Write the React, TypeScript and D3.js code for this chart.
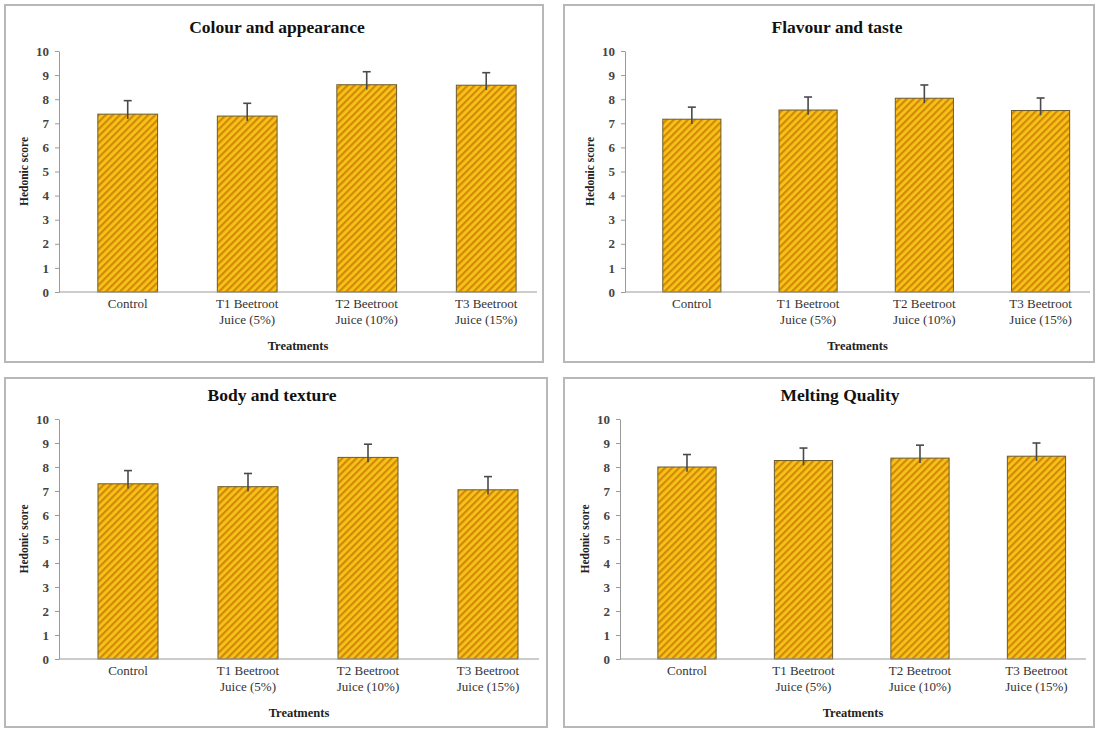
import { useEffect, useRef } from "react";
import * as d3 from "d3";

const CATEGORIES = ["Control", "T1 Beetroot Juice (5%)", "T2 Beetroot Juice (10%)", "T3 Beetroot Juice (15%)"];
const CATEGORY_LINES = [["Control"], ["T1 Beetroot", "Juice (5%)"], ["T2 Beetroot", "Juice (10%)"], ["T3 Beetroot", "Juice (15%)"]];
const Y_TICKS = [0, 1, 2, 3, 4, 5, 6, 7, 8, 9, 10];

const TITLES = ["Colour and appearance", "Flavour and taste", "Body and texture", "Melting Quality"];

const COLOUR_MEANS = [7.38, 7.3, 8.6, 8.58];
const COLOUR_ERR = [0.56, 0.53, 0.54, 0.52];
const FLAVOUR_MEANS = [7.17, 7.55, 8.04, 7.53];
const FLAVOUR_ERR = [0.5, 0.54, 0.55, 0.52];
const BODY_MEANS = [7.3, 7.18, 8.4, 7.05];
const BODY_ERR = [0.55, 0.55, 0.55, 0.55];
const MELTING_MEANS = [8.0, 8.27, 8.37, 8.45];
const MELTING_ERR = [0.52, 0.52, 0.54, 0.55];

// panel frames and plot areas (px)
const LAYOUT = [
  { box: [5, 5, 538, 357], x0: 59, x1: 537, yTop: 51, yBot: 292, titleX: 277 },
  { box: [564, 5, 530, 357], x0: 625, x1: 1090, yTop: 51, yBot: 292, titleX: 837 },
  { box: [5, 378, 542, 349], x0: 59, x1: 539, yTop: 419, yBot: 659, titleX: 272 },
  { box: [564, 378, 530, 349], x0: 620, x1: 1086, yTop: 419, yBot: 659, titleX: 840 },
];

const SERIES = [
  { means: COLOUR_MEANS, err: COLOUR_ERR },
  { means: FLAVOUR_MEANS, err: FLAVOUR_ERR },
  { means: BODY_MEANS, err: BODY_ERR },
  { means: MELTING_MEANS, err: MELTING_ERR },
];

const FONT = "'Liberation Serif', 'Times New Roman', serif";
const AXIS_COLOR = "#9a9a9a";
const ERR_INSIDE = 0.2; // visible part of the whisker inside the bar

const Panel = ({ idx }: { idx: number }) => {
  const axisRef = useRef<SVGGElement>(null);
  const lay = LAYOUT[idx];
  const { means, err } = SERIES[idx];

  const x = d3
    .scaleBand()
    .domain(CATEGORIES)
    .range([lay.x0, lay.x1])
    .paddingInner(0.5)
    .paddingOuter(0.25)
    .align(0.65);
  const y = d3.scaleLinear().domain([0, 10]).range([lay.yBot, lay.yTop]);

  useEffect(() => {
    const g = d3.select(axisRef.current);
    g.selectAll("*").remove();
    const ax = g
      .append("g")
      .attr("transform", `translate(${lay.x0},0)`)
      .call(d3.axisLeft(y).tickValues(Y_TICKS).tickSize(4).tickSizeOuter(0).tickPadding(6));
    ax.select(".domain").attr("stroke", AXIS_COLOR);
    ax.selectAll(".tick line").attr("stroke", AXIS_COLOR);
    ax.selectAll(".tick text")
      .attr("font-family", FONT)
      .attr("font-size", 13)
      .attr("font-weight", "bold")
      .attr("fill", "#444");
  }, [idx]);

  const bw = x.bandwidth();
  const midX = (lay.x0 + lay.x1) / 2;
  const midY = (lay.yTop + lay.yBot) / 2;

  return (
    <g>
      <rect
        x={lay.box[0]}
        y={lay.box[1]}
        width={lay.box[2]}
        height={lay.box[3]}
        fill="#fff"
        stroke="#b8b8b8"
        strokeWidth={2}
      />
      <text
        x={lay.titleX}
        y={lay.yTop - 18}
        textAnchor="middle"
        fontFamily={FONT}
        fontWeight="bold"
        fontSize={17.5}
        fill="#111"
      >
        {TITLES[idx]}
      </text>
      {means.map((m, i) => (
        <rect
          key={i}
          x={x(CATEGORIES[i])}
          y={y(m)}
          width={bw}
          height={y(0) - y(m)}
          fill="url(#hatch)"
          stroke="#6b5a2e"
          strokeWidth={1}
        />
      ))}
      {means.map((m, i) => {
        const cx = (x(CATEGORIES[i]) as number) + bw / 2;
        return (
          <g key={i} stroke="#4a4a4a" strokeWidth={1.6}>
            <line x1={cx} x2={cx} y1={y(m + err[i])} y2={y(m - ERR_INSIDE)} />
            <line x1={cx - 4} x2={cx + 4} y1={y(m + err[i])} y2={y(m + err[i])} />
          </g>
        );
      })}
      <line x1={lay.x0} x2={lay.x1} y1={y(0)} y2={y(0)} stroke={AXIS_COLOR} strokeWidth={1.2} />
      <g ref={axisRef} />
      {CATEGORY_LINES.map((lines, i) => (
        <text
          key={i}
          x={(x(CATEGORIES[i]) as number) + bw / 2}
          y={y(0) + 16}
          textAnchor="middle"
          fontFamily={FONT}
          fontSize={13}
          fill="#333"
        >
          {lines.map((t, j) => (
            <tspan key={j} x={(x(CATEGORIES[i]) as number) + bw / 2} dy={j === 0 ? 0 : 16}>
              {t}
            </tspan>
          ))}
        </text>
      ))}
      <text
        x={midX}
        y={y(0) + 58}
        textAnchor="middle"
        fontFamily={FONT}
        fontWeight="bold"
        fontSize={12.5}
        fill="#222"
      >
        Treatments
      </text>
      <text
        transform={`translate(${lay.x0 - 31},${midY}) rotate(-90)`}
        textAnchor="middle"
        fontFamily={FONT}
        fontWeight="bold"
        fontSize={11.5}
        fill="#222"
      >
        Hedonic score
      </text>
    </g>
  );
};

export default function App() {
  return (
    <svg width={1099} height={729} style={{ position: "absolute", left: 0, top: 0, background: "#fff" }}>
      <defs>
        <pattern id="hatch" width={5} height={5} patternUnits="userSpaceOnUse" patternTransform="rotate(45)">
          <rect width={5} height={5} fill="#f5c416" />
          <rect width={2.2} height={5} fill="#d4870a" />
        </pattern>
      </defs>
      {[0, 1, 2, 3].map((i) => (
        <Panel key={i} idx={i} />
      ))}
    </svg>
  );
}
